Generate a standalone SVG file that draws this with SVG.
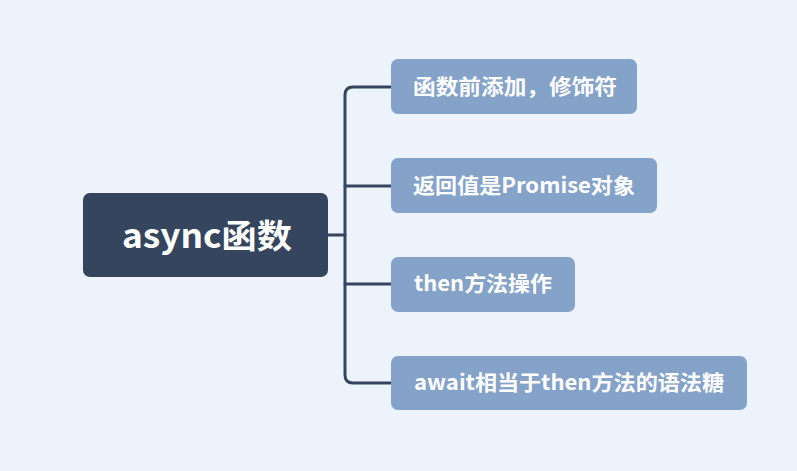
<svg xmlns="http://www.w3.org/2000/svg" width="797" height="471" viewBox="0 0 797 471">
<style>
.bg{fill:#ECF3FA}
.root{fill:#34455D}
.child{fill:#85A2C9}
.rt{fill:#FFFFFF;font-family:"Noto Sans CJK SC","Noto Sans",sans-serif;font-weight:bold;font-size:33px}
.ct{fill:#FFFFFF;font-family:"Noto Sans CJK SC","Noto Sans",sans-serif;font-weight:bold;font-size:21px}
.ln{fill:none;stroke:#34455D;stroke-width:3;stroke-linecap:round}
</style>
<rect class="bg" x="0" y="0" width="797" height="471"/>
<g id="connectors">
<path class="ln" d="M328 235 H345"/>
<path class="ln" d="M391 87 H353 Q345 87 345 95 V375 Q345 383 353 383 H391"/>
<path class="ln" d="M345 186 H391"/>
<path class="ln" d="M345 284 H391"/>
</g>
<g id="root">
<rect class="root" x="83" y="193" width="245" height="84" rx="7"/>
<text class="rt" x="122" y="248" textLength="170" lengthAdjust="spacingAndGlyphs">async函数</text>
</g>
<g id="n1">
<rect class="child" x="391" y="59" width="246" height="55" rx="7"/>
<text class="ct" x="413" y="94" textLength="204" lengthAdjust="spacingAndGlyphs">函数前添加，修饰符</text>
</g>
<g id="n2">
<rect class="child" x="391" y="158" width="266" height="55" rx="7"/>
<text class="ct" x="413" y="193" textLength="222" lengthAdjust="spacingAndGlyphs">返回值是Promise对象</text>
</g>
<g id="n3">
<rect class="child" x="391" y="257" width="184" height="55" rx="7"/>
<text class="ct" x="414" y="291" textLength="138" lengthAdjust="spacingAndGlyphs">then方法操作</text>
</g>
<g id="n4">
<rect class="child" x="391" y="356" width="356" height="54" rx="7"/>
<text class="ct" x="414" y="390" textLength="310" lengthAdjust="spacingAndGlyphs">await相当于then方法的语法糖</text>
</g>
</svg>
